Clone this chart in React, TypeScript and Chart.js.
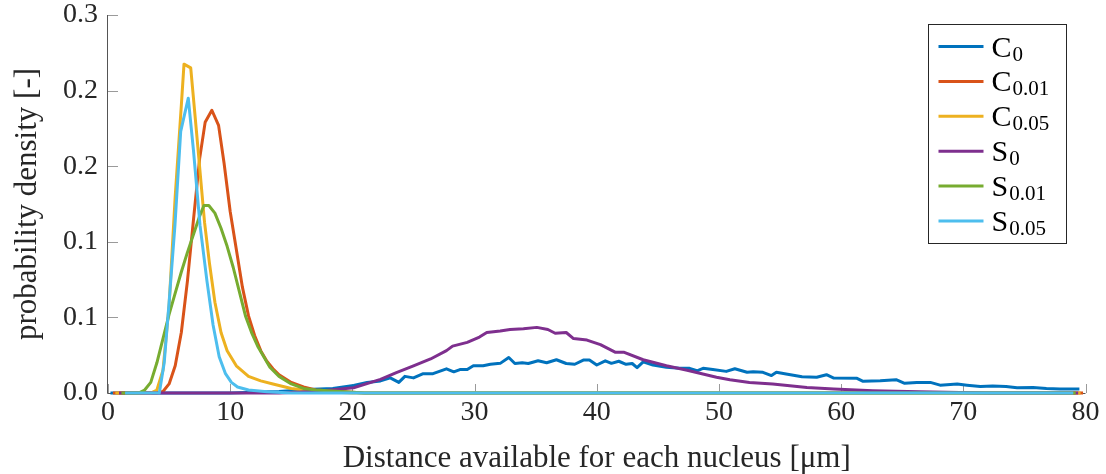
import React, { useEffect, useRef } from "react";
import { Chart, registerables } from "chart.js";

Chart.register(...registerables);

// ---------- data ----------
const seriesNames = ["C0", "C0.01", "C0.05", "S0", "S0.01", "S0.05"];
const seriesColors = ["#0072BD", "#D95319", "#EDB120", "#7E2F8E", "#77AC30", "#4DBEEE"];

const xTickValues = [0, 10, 20, 30, 40, 50, 60, 70, 80];
const xTickLabels = ["0", "10", "20", "30", "40", "50", "60", "70", "80"];
const yTickValues = [0, 0.05, 0.1, 0.15, 0.2, 0.25];
const yTickLabels = ["0.0", "0.1", "0.1", "0.2", "0.2", "0.3"];

const c0X = [0.2, 10, 12, 14, 15.5, 16.8, 18.4, 20.1, 21.2, 22.3, 23.1, 23.8, 24.3, 25.0, 25.8, 26.6, 27.7, 28.3, 28.8, 29.4, 29.9, 30.7, 31.3, 32.1, 32.8, 33.3, 33.9, 34.4, 35.2, 35.9, 36.7, 37.5, 38.2, 38.9, 39.4, 40.0, 40.7, 41.2, 41.8, 42.4, 42.9, 43.3, 43.8, 44.6, 45.7, 46.8, 47.6, 48.2, 48.7, 49.5, 50.6, 51.3, 52.3, 52.8, 53.6, 54.3, 54.7, 55.5, 56.8, 58.0, 58.8, 59.4, 61.3, 61.8, 63.2, 64.5, 65.2, 66.2, 67.3, 68.1, 69.5, 70.3, 71.4, 72.4, 73.5, 74.4, 75.7, 76.8, 77.9, 79.5];
const c0Y = [0, 0, 0.0005, 0.001, 0.0018, 0.0025, 0.003, 0.005, 0.007, 0.008, 0.010, 0.007, 0.011, 0.010, 0.0128, 0.0128, 0.016, 0.014, 0.0155, 0.0155, 0.018, 0.018, 0.019, 0.0196, 0.0235, 0.0195, 0.020, 0.0195, 0.0213, 0.020, 0.022, 0.0195, 0.019, 0.0218, 0.0218, 0.0185, 0.0213, 0.0196, 0.021, 0.019, 0.0195, 0.0168, 0.0206, 0.0185, 0.017, 0.0163, 0.0163, 0.0147, 0.0163, 0.0155, 0.0143, 0.016, 0.0137, 0.0141, 0.0137, 0.0115, 0.0137, 0.0126, 0.0108, 0.0104, 0.0121, 0.0099, 0.0097, 0.0077, 0.0081, 0.0088, 0.0064, 0.007, 0.007, 0.0052, 0.0059, 0.0052, 0.0043, 0.0047, 0.0043, 0.0034, 0.0036, 0.003, 0.0026, 0.0026];

const c001X = [0.4, 4.0, 4.5, 5.0, 5.5, 6.0, 6.5, 7.0, 7.5, 7.95, 8.5, 9.05, 9.5, 10.0, 10.5, 11.0, 11.5, 12.0, 12.5, 13.0, 13.5, 14.0, 15.0, 16.0, 17.0, 19.0, 21.0, 79.8];
const c001Y = [0, 0, 0.001, 0.006, 0.018, 0.04, 0.074, 0.115, 0.155, 0.179, 0.187, 0.177, 0.152, 0.12, 0.095, 0.07, 0.051, 0.038, 0.028, 0.021, 0.016, 0.012, 0.007, 0.004, 0.002, 0.001, 0, 0];

const c005X = [0.6, 3.5, 4.0, 4.5, 5.0, 5.5, 6.0, 6.22, 6.77, 7.25, 7.9, 8.3, 8.75, 9.25, 9.75, 10.5, 11.5, 12.5, 13.5, 15, 17, 20, 79.6];
const c005Y = [0, 0, 0.002, 0.015, 0.058, 0.13, 0.19, 0.2175, 0.215, 0.172, 0.113, 0.086, 0.06, 0.04, 0.028, 0.018, 0.011, 0.008, 0.006, 0.003, 0.0012, 0, 0];

const s0X = [0.9, 14, 15.5, 17.6, 18.2, 20.1, 22.3, 23.6, 25.0, 26.4, 27.7, 28.2, 29.4, 30.4, 31.0, 32.1, 32.9, 34.0, 35.1, 36.0, 36.6, 37.5, 38.1, 39.2, 40.3, 41.5, 42.2, 43.8, 45.7, 47.4, 49.8, 50.9, 52.5, 54.4, 57.2, 59.4, 62.6, 66.4, 69.7, 72, 79.4];
const s0Y = [0, 0, 0.0005, 0.0015, 0.002, 0.0035, 0.009, 0.0135, 0.018, 0.0225, 0.028, 0.031, 0.0335, 0.037, 0.040, 0.041, 0.042, 0.0425, 0.0434, 0.042, 0.0395, 0.040, 0.036, 0.035, 0.032, 0.027, 0.027, 0.022, 0.018, 0.015, 0.0104, 0.0088, 0.007, 0.006, 0.0037, 0.0026, 0.0015, 0.0008, 0.0003, 0, 0];

const s001X = [1.1, 2.5, 3.0, 3.5, 4.0, 4.5, 5.0, 5.5, 6.0, 6.5, 7.0, 7.5, 7.85, 8.25, 8.75, 9.25, 9.75, 10.25, 10.75, 11.25, 11.75, 12.25, 12.75, 13.25, 14.0, 15.0, 16.0, 17.0, 19.0, 21.0, 79.2];
const s001Y = [0, 0, 0.002, 0.007, 0.02, 0.036, 0.052, 0.066, 0.08, 0.093, 0.105, 0.117, 0.124, 0.124, 0.119, 0.109, 0.097, 0.083, 0.067, 0.051, 0.040, 0.031, 0.024, 0.017, 0.011, 0.006, 0.003, 0.002, 0.001, 0, 0];

const s005X = [1.4, 4.2, 4.6, 5.0, 5.48, 5.95, 6.57, 7.0, 7.53, 8.1, 8.6, 9.1, 9.6, 10.1, 10.6, 11.5, 13, 15, 79.0];
const s005Y = [0, 0, 0.02, 0.06, 0.111, 0.173, 0.195, 0.16, 0.111, 0.074, 0.045, 0.024, 0.013, 0.007, 0.004, 0.002, 0.0008, 0, 0];

const seriesX = [c0X, c001X, c005X, s0X, s001X, s005X];
const seriesY = [c0Y, c001Y, c005Y, s0Y, s001Y, s005Y];

const xTitle = "Distance available for each nucleus [μm]";
const yTitle = "probability density [-]";

// ---------- helpers ----------
const FONT = "'Liberation Serif', 'Times New Roman', serif";
const AXIS_COLOR = "#555555";
const TICK_COLOR = "#9a9a9a";
const TEXT_COLOR = "#262626";

function zip(xs: number[], ys: number[]) {
  const n = Math.min(xs.length, ys.length);
  const out: { x: number; y: number }[] = [];
  for (let i = 0; i < n; i++) out.push({ x: xs[i], y: ys[i] });
  return out;
}

const axesPlugin = {
  id: "inwardAxes",
  beforeDatasetsDraw(chart: any) {
    const { ctx, chartArea, scales } = chart;
    const xs = scales.x;
    const ys = scales.y;
    ctx.save();
    ctx.lineWidth = 1;
    ctx.strokeStyle = TICK_COLOR;
    ctx.beginPath();
    xTickValues.forEach((v) => {
      const px = Math.round(xs.getPixelForValue(v)) + 0.5;
      ctx.moveTo(px, chartArea.bottom);
      ctx.lineTo(px, chartArea.bottom - 9);
    });
    yTickValues.forEach((v) => {
      const py = Math.round(ys.getPixelForValue(v)) + 0.5;
      ctx.moveTo(chartArea.left, py);
      ctx.lineTo(chartArea.left + 10, py);
    });
    ctx.stroke();
    ctx.strokeStyle = AXIS_COLOR;
    ctx.beginPath();
    const lx = Math.round(chartArea.left) - 0.5;
    const by = Math.round(chartArea.bottom) + 0.5;
    ctx.moveTo(lx, chartArea.top);
    ctx.lineTo(lx, by);
    ctx.lineTo(chartArea.right, by);
    ctx.stroke();
    ctx.restore();
  },
};

const legendPlugin = {
  id: "subscriptLegend",
  afterDraw(chart: any) {
    const { ctx, chartArea } = chart;
    const bw = 138;
    const bh = 219;
    const bx = Math.round(chartArea.right - 20 - bw) + 0.5;
    const by = Math.round(chartArea.top + 9) + 0.5;
    ctx.save();
    ctx.fillStyle = "#ffffff";
    ctx.fillRect(bx, by, bw, bh);
    ctx.strokeStyle = "#262626";
    ctx.lineWidth = 1;
    ctx.strokeRect(bx, by, bw, bh);
    chart.data.datasets.forEach((ds: any, i: number) => {
      const cy = by + 22 + i * 34.9;
      ctx.strokeStyle = ds.borderColor;
      ctx.lineWidth = 3;
      ctx.beginPath();
      ctx.moveTo(bx + 10, cy);
      ctx.lineTo(bx + 55, cy);
      ctx.stroke();
      const label: string = ds.label;
      const base = label.slice(0, 1);
      const sub = label.slice(1);
      ctx.fillStyle = "#000000";
      ctx.textAlign = "left";
      ctx.textBaseline = "alphabetic";
      ctx.font = `30px ${FONT}`;
      ctx.fillText(base, bx + 63, cy + 10);
      const w = ctx.measureText(base).width;
      ctx.font = `21px ${FONT}`;
      ctx.fillText(sub, bx + 63 + w + 1, cy + 14);
    });
    ctx.restore();
  },
};

export default function App() {
  const canvasRef = useRef<HTMLCanvasElement | null>(null);

  useEffect(() => {
    if (!canvasRef.current) return;
    const n = seriesNames.length;
    const datasets = seriesNames.map((name, i) => ({
      label: name,
      data: zip(seriesX[i], seriesY[i]),
      borderColor: seriesColors[i],
      backgroundColor: seriesColors[i],
      borderWidth: 3,
      pointRadius: 0,
      tension: 0,
      fill: false,
      clip: 6,
      order: n - 1 - i,
      borderJoinStyle: "round" as const,
    }));

    const chart = new Chart(canvasRef.current, {
      type: "line",
      data: { datasets },
      options: {
        animation: false,
        responsive: false,
        maintainAspectRatio: false,
        layout: { padding: { top: 15, right: 20.5, bottom: 0, left: 0 } },
        plugins: {
          legend: { display: false },
          tooltip: { enabled: false },
        },
        scales: {
          x: {
            type: "linear",
            min: 0,
            max: 80,
            afterBuildTicks: (scale: any) => {
              scale.ticks = xTickValues.map((v) => ({ value: v }));
            },
            afterFit: (scale: any) => {
              scale.height = 81;
              scale.paddingLeft = 0;
              scale.paddingRight = 0;
            },
            grid: { display: false, drawTicks: false },
            border: { display: false },
            ticks: {
              padding: 6,
              color: TEXT_COLOR,
              maxRotation: 0,
              autoSkip: false,
              font: { family: FONT, size: 28, lineHeight: 1 },
              callback: (_v: any, i: number) => xTickLabels[i],
            },
            title: {
              display: true,
              text: xTitle,
              color: TEXT_COLOR,
              font: { family: FONT, size: 31, lineHeight: 1 },
              padding: { top: 0, bottom: 0 },
            },
          },
          y: {
            type: "linear",
            min: 0,
            max: 0.25,
            afterBuildTicks: (scale: any) => {
              scale.ticks = yTickValues.map((v) => ({ value: v }));
            },
            afterFit: (scale: any) => {
              scale.width = 108;
              scale.paddingTop = 0;
              scale.paddingBottom = 0;
            },
            grid: { display: false, drawTicks: false },
            border: { display: false },
            ticks: {
              padding: 10,
              color: TEXT_COLOR,
              autoSkip: false,
              font: { family: FONT, size: 28, lineHeight: 1 },
              callback: (_v: any, i: number) => yTickLabels[i],
            },
            title: {
              display: true,
              text: yTitle,
              color: TEXT_COLOR,
              font: { family: FONT, size: 31, lineHeight: 1 },
              padding: { top: 12, bottom: 0 },
            },
          },
        },
      },
      plugins: [axesPlugin, legendPlugin],
    });
    return () => chart.destroy();
  }, []);

  return (
    <div style={{ position: "absolute", left: 0, top: 0, width: 1106, height: 474, background: "#fff" }}>
      <canvas ref={canvasRef} width={1106} height={474} style={{ width: 1106, height: 474 }} />
    </div>
  );
}
